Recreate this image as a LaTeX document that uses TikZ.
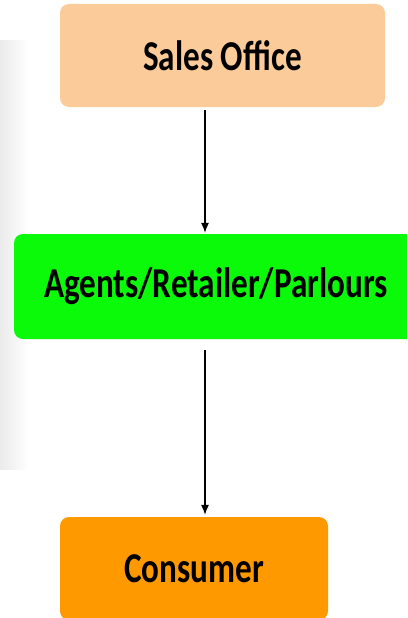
\documentclass[tikz,border=0pt]{standalone}
\usepackage{fontspec}
\setmainfont{Carlito}
\newfontfamily\boxfont[FakeStretch=0.78]{Carlito}
\usetikzlibrary{positioning, calc, fadings, arrows.meta}
\definecolor{Peach}{RGB}{251,203,154}
\definecolor{Lime}{RGB}{10,250,10}
\definecolor{Amber}{RGB}{255,153,0}

\begin{document}
\begin{tikzpicture}[x=1pt,y=-1pt]
        \tikzset{ box/.style={rounded corners=9pt, inner sep=0pt, text=black, font=\boxfont\bfseries\fontsize{42.5}{46}\selectfont} }
        \tikzset{ ofc/.style={box, fill=Peach, minimum width=325pt, minimum height=103pt} }
        \tikzset{ agt/.style={box, fill=Lime,  minimum width=404pt, minimum height=105pt} }
        \tikzset{ cns/.style={box, fill=Amber, minimum width=268pt, minimum height=103pt} }
        \tikzset{ arr/.style={->, >={Latex[length=10pt,width=8pt]}, line width=1.1pt} }

        \clip (0,0) rectangle (407,618);
        \fill[white] (0,0) rectangle (407,618);
        \fill[black!8, path fading=east] (0,40) rectangle (28,470);

        \node[ofc] (so) at (222.5, 55.5) {Sales Office};
        \node[agt] (ag) at (216.0,286.5) {Agents/Retailer/Parlours};
        \node[cns] (cn) at (194.0,568.5) {Consumer};

        \coordinate (ax) at (205,0);

        \draw[arr] ([yshift=-3pt]so.south -| ax) -- ([yshift=1pt]ag.north -| ax);
        \draw[arr] ([yshift=-11pt]ag.south -| ax) -- ([yshift=2pt]cn.north -| ax);
\end{tikzpicture}
\end{document}
